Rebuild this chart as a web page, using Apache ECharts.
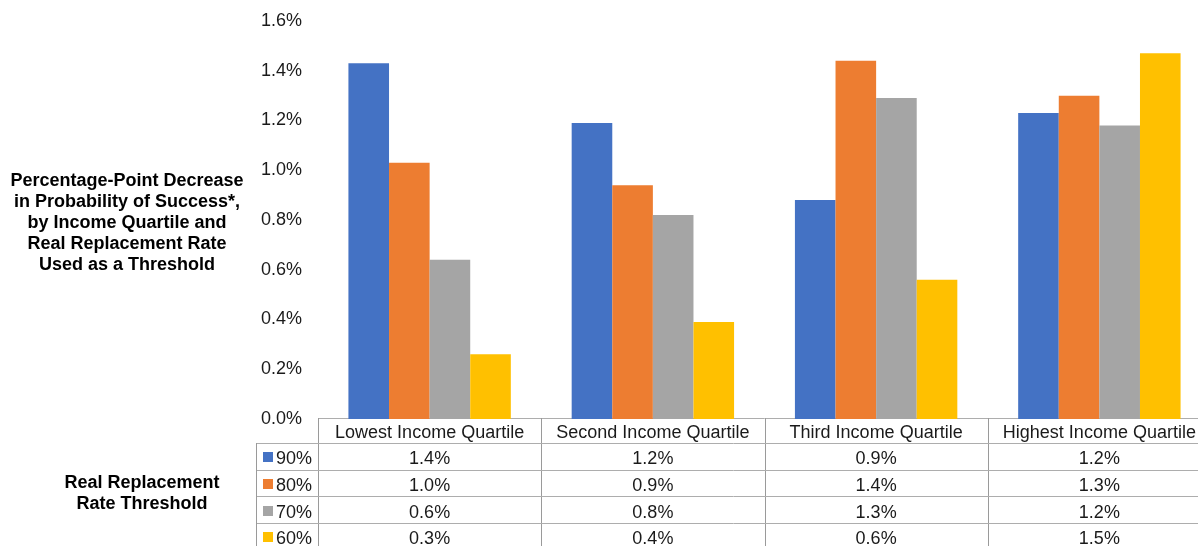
<!DOCTYPE html>
<html>
<head>
<meta charset="utf-8">
<script src="https://cdn.jsdelivr.net/npm/echarts@6/dist/echarts.min.js"></script>
<style>
html, body { margin: 0; padding: 0; background: #fff; overflow: hidden; }
/* the source picture is cropped on the right, so the canvas runs past the window */
#chart { width: 1211px; height: 546px; }
</style>
</head>
<body>
<div id="chart"></div>
<script>
// data (percentage points)
var categories = ['Lowest Income Quartile', 'Second Income Quartile', 'Third Income Quartile', 'Highest Income Quartile'];
var seriesNames = ['90%', '80%', '70%', '60%'];
var colors = ['#4472C4', '#ED7D31', '#A5A5A5', '#FFC000'];
var rate90 = [1.43, 1.19, 0.88, 1.23];
var rate80 = [1.03, 0.94, 1.44, 1.30];
var rate70 = [0.64, 0.82, 1.29, 1.18];
var rate60 = [0.26, 0.39, 0.56, 1.47];
var allRates = [rate90, rate80, rate70, rate60];
var yTitle = 'Percentage-Point Decrease\nin Probability of Success*,\nby Income Quartile and\nReal Replacement Rate\nUsed as a Threshold';
var tableTitle = 'Real Replacement\nRate Threshold';

var FONT = '"Liberation Sans", Arial, sans-serif';
var chart = echarts.init(document.getElementById('chart'));

var series = [];
for (var i = 0; i < seriesNames.length; i++) {
    series.push({
        name: seriesNames[i],
        type: 'bar',
        data: allRates[i],
        barWidth: 40.6,
        barGap: '0%',
        itemStyle: { color: colors[i] },
        animation: false
    });
}

chart.setOption({
    animation: false,
    grid: { left: 318, top: 21, right: 0, height: 398 },
    xAxis: {
        type: 'category',
        data: categories,
        axisLine: { show: false },
        axisTick: { show: false },
        axisLabel: { show: false }
    },
    yAxis: {
        type: 'value',
        min: 0,
        max: 1.6,
        interval: 0.2,
        axisLine: { show: false },
        axisTick: { show: false },
        splitLine: { show: false },
        axisLabel: {
            margin: 16,
            fontSize: 18,
            fontFamily: FONT,
            color: '#1a1a1a',
            padding: [4, 0, 0, 0],
            formatter: function (v) { return v.toFixed(1) + '%'; }
        }
    },
    series: series
});

// data table under the plot, placed from the category axis
var centers = categories.map(function (c) { return chart.convertToPixel({ xAxisIndex: 0 }, c); });
var band = centers[1] - centers[0];
var x0 = centers[0] - band / 2;
var xEnd = centers[centers.length - 1] + band / 2;
var tableTop = Math.round(chart.convertToPixel({ yAxisIndex: 0 }, 0)) - 1;
var headH = 25, rowH = 26.7;
var labelLeft = 256;
var tableBottom = 560;
var els = [];

function hline(xa, xb, y, col) {
    y = Math.round(y) + 0.5;
    els.push({ type: 'line', shape: { x1: xa, y1: y, x2: xb, y2: y }, style: { stroke: col || '#adadad', lineWidth: 1 } });
}
function vline(x, ya, yb, col) {
    x = Math.round(x) + 0.5;
    els.push({ type: 'line', shape: { x1: x, y1: ya, x2: x, y2: yb }, style: { stroke: col || '#9a9a9a', lineWidth: 1 } });
}
function txt(s, x, y, opt) {
    opt = opt || {};
    els.push({ type: 'text', style: {
        text: s, x: x, y: y, align: opt.align || 'center', verticalAlign: 'middle',
        font: (opt.weight || 'normal') + ' ' + (opt.size || 18) + 'px ' + FONT,
        fill: opt.color || '#1a1a1a', lineHeight: opt.lh || 21
    } });
}

hline(x0, xEnd, tableTop);
for (var c = 0; c <= categories.length; c++) {
    vline(x0 + c * band, tableTop, tableBottom);
}
var headBottom = tableTop + headH;
for (var r = 0; r < seriesNames.length; r++) {
    hline(labelLeft, xEnd, headBottom + r * rowH);
}
vline(labelLeft, headBottom, tableBottom);

categories.forEach(function (cat, ci) {
    txt(cat, centers[ci], tableTop + headH / 2 + 3);
});
seriesNames.forEach(function (name, si) {
    var yc = headBottom + si * rowH + rowH / 2 + 3;
    els.push({ type: 'rect', shape: { x: 263, y: Math.round(yc) - 7, width: 10, height: 10 }, style: { fill: colors[si] } });
    txt(name, 276, yc, { align: 'left' });
    allRates[si].forEach(function (v, ci) {
        txt(v.toFixed(1) + '%', centers[ci], yc);
    });
});

txt(yTitle, 127, 223, { weight: 'bold', size: 18, color: '#000', lh: 21 });
txt(tableTitle, 142, 494, { weight: 'bold', size: 18, color: '#000', lh: 21 });

chart.setOption({ graphic: { elements: els } });
</script>
</body>
</html>
